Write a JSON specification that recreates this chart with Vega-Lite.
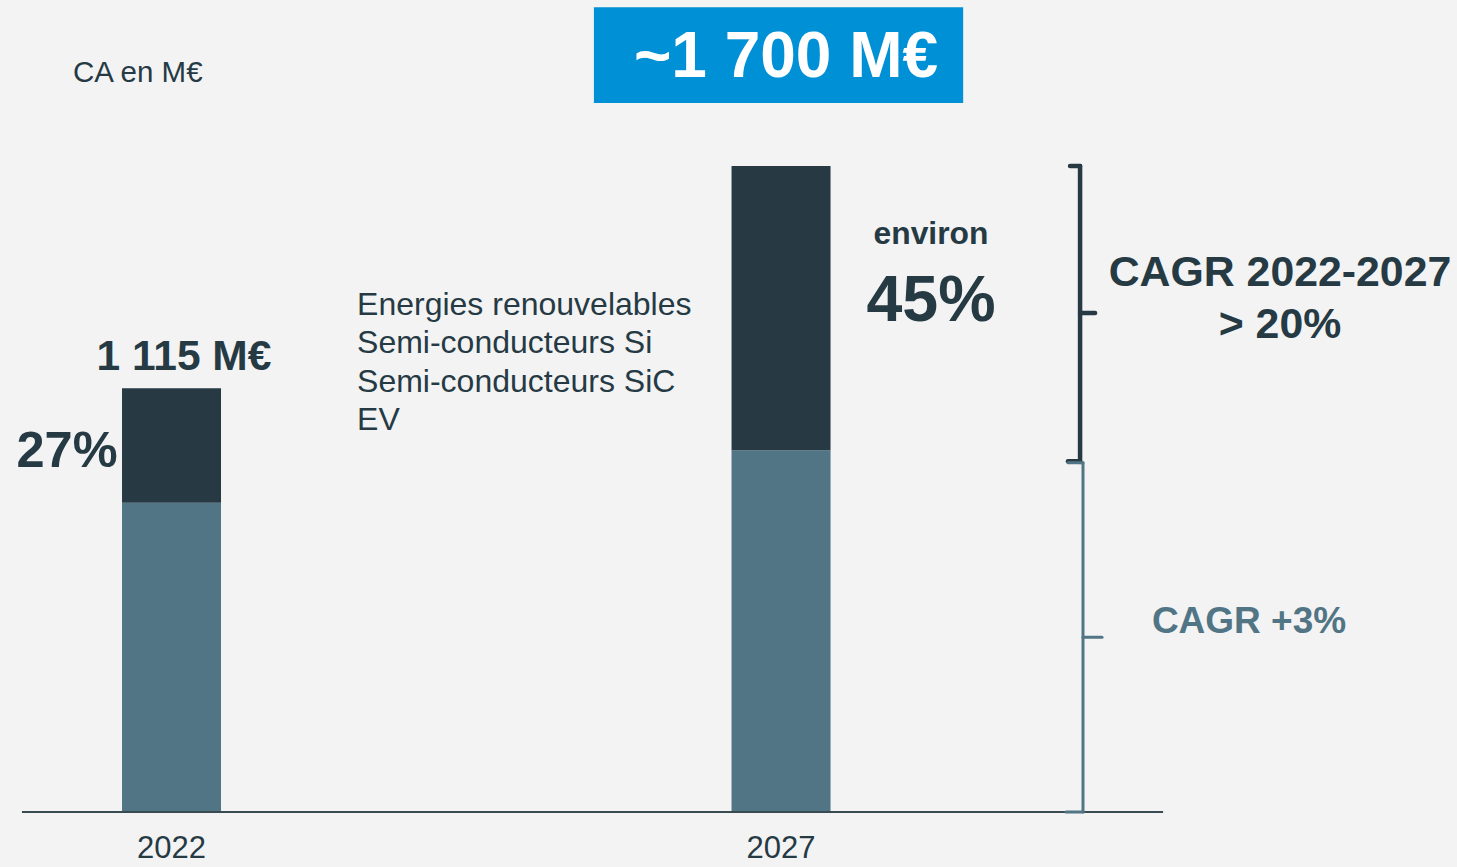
{
"$schema":"https://vega.github.io/schema/vega-lite/v6.json",
"width":1457,"height":867,
"autosize":{"type":"none"},
"padding":0,
"background":"#f3f3f4",
"config":{"view":{"stroke":null},"font":"Liberation Sans","text":{"font":"Liberation Sans"}},
"data":{"values":[{"note":"annotation"}]},
"datasets":{
"ca":[
{"year":2022,"segment":"Activités historiques","value":814},
{"year":2022,"segment":"Nouveaux marchés","value":301},
{"year":2027,"segment":"Activités historiques","value":952},
{"year":2027,"segment":"Nouveaux marchés","value":748}
],
"years":[{"year":2022,"label":"2022"},{"year":2027,"label":"2027"}],
"brackets":[
{"group":"nouveaux","x":2029.453,"x2":2029.453,"y":921,"y2":1700},
{"group":"nouveaux","x":2029.371,"x2":2029.453,"y":1700,"y2":1700},
{"group":"nouveaux","x":2029.354,"x2":2029.453,"y":923,"y2":923},
{"group":"nouveaux","x":2029.453,"x2":2029.576,"y":1313,"y2":1313},
{"group":"historiques","x":2029.477,"x2":2029.477,"y":0,"y2":919},
{"group":"historiques","x":2029.354,"x2":2029.477,"y":919,"y2":919},
{"group":"historiques","x":2029.477,"x2":2029.633,"y":460,"y2":460},
{"group":"historiques","x":2029.338,"x2":2029.477,"y":0,"y2":0}
]
},
"layer":[
{"mark":{"type":"rect","color":"#0090d6"},
 "encoding":{
 "x":{"datum":2025.465,"type":"quantitative","scale":{"domain":[2020.593,2032.545],"nice":false,"zero":false,"padding":0},"axis":null},
 "x2":{"datum":2028.494},
 "y":{"datum":2118,"type":"quantitative","scale":{"domain":[-144.7,2136.8],"nice":false,"zero":false,"padding":0},"axis":null},
 "y2":{"datum":1866}}},
{"data":{"name":"ca"},
 "mark":{"type":"bar","size":99},
 "encoding":{
 "x":{"field":"year","type":"quantitative","scale":{"domain":[2020.593,2032.545],"nice":false,"zero":false,"padding":0},"axis":null},
 "y":{"field":"value","type":"quantitative","stack":"zero","scale":{"domain":[-144.7,2136.8],"nice":false,"zero":false,"padding":0},"axis":null},
 "color":{"field":"segment","type":"nominal","scale":{"domain":["Activités historiques","Nouveaux marchés"],"range":["#517585","#273a43"]},"legend":null},
 "order":{"field":"segment","sort":"ascending"}}},
{"mark":{"type":"rule","color":"#3a4a53","strokeWidth":2},
 "encoding":{
 "x":{"datum":2020.773,"type":"quantitative","scale":{"domain":[2020.593,2032.545],"nice":false,"zero":false,"padding":0},"axis":null},
 "x2":{"datum":2030.134},
 "y":{"datum":0,"type":"quantitative","scale":{"domain":[-144.7,2136.8],"nice":false,"zero":false,"padding":0},"axis":null}}},
{"data":{"name":"brackets"},
 "transform":[{"filter":"datum.group === 'nouveaux'"}],
 "mark":{"type":"rule","color":"#273a43","strokeWidth":4.5,"strokeCap":"round"},
 "encoding":{
 "x":{"field":"x","type":"quantitative","scale":{"domain":[2020.593,2032.545],"nice":false,"zero":false,"padding":0},"axis":null},
 "x2":{"field":"x2"},
 "y":{"field":"y","type":"quantitative","scale":{"domain":[-144.7,2136.8],"nice":false,"zero":false,"padding":0},"axis":null},
 "y2":{"field":"y2"}}},
{"data":{"name":"brackets"},
 "transform":[{"filter":"datum.group === 'historiques'"}],
 "mark":{"type":"rule","color":"#517585","strokeWidth":3,"strokeCap":"round"},
 "encoding":{
 "x":{"field":"x","type":"quantitative","scale":{"domain":[2020.593,2032.545],"nice":false,"zero":false,"padding":0},"axis":null},
 "x2":{"field":"x2"},
 "y":{"field":"y","type":"quantitative","scale":{"domain":[-144.7,2136.8],"nice":false,"zero":false,"padding":0},"axis":null},
 "y2":{"field":"y2"}}},
{"data":{"name":"years"},
 "mark":{"type":"text","fontSize":31,"color":"#263a44","baseline":"middle","align":"center"},
 "encoding":{
 "x":{"field":"year","type":"quantitative","scale":{"domain":[2020.593,2032.545],"nice":false,"zero":false,"padding":0},"axis":null},
 "y":{"datum":-97,"type":"quantitative","scale":{"domain":[-144.7,2136.8],"nice":false,"zero":false,"padding":0},"axis":null},
 "text":{"field":"label"}}},
{"mark":{"type":"text","text":"CA en M€","fontSize":29.5,"color":"#263a44","baseline":"middle","align":"left"},
 "encoding":{
 "x":{"datum":2021.192,"type":"quantitative","scale":{"domain":[2020.593,2032.545],"nice":false,"zero":false,"padding":0},"axis":null},
 "y":{"datum":1944.7,"type":"quantitative","scale":{"domain":[-144.7,2136.8],"nice":false,"zero":false,"padding":0},"axis":null}}},
{"mark":{"type":"text","text":"~1 700 M€","fontSize":64,"fontWeight":"bold","color":"#ffffff","baseline":"middle","align":"center"},
 "encoding":{
 "x":{"datum":2027.041,"type":"quantitative","scale":{"domain":[2020.593,2032.545],"nice":false,"zero":false,"padding":0},"axis":null},
 "y":{"datum":1984,"type":"quantitative","scale":{"domain":[-144.7,2136.8],"nice":false,"zero":false,"padding":0},"axis":null}}},
{"mark":{"type":"text","text":"1 115 M€","fontSize":42.5,"fontWeight":"bold","color":"#263a44","baseline":"middle","align":"center"},
 "encoding":{
 "x":{"datum":2022.102,"type":"quantitative","scale":{"domain":[2020.593,2032.545],"nice":false,"zero":false,"padding":0},"axis":null},
 "y":{"datum":1198,"type":"quantitative","scale":{"domain":[-144.7,2136.8],"nice":false,"zero":false,"padding":0},"axis":null}}},
{"mark":{"type":"text","text":"27%","fontSize":50.5,"fontWeight":"bold","color":"#263a44","baseline":"middle","align":"center"},
 "encoding":{
 "x":{"datum":2021.143,"type":"quantitative","scale":{"domain":[2020.593,2032.545],"nice":false,"zero":false,"padding":0},"axis":null},
 "y":{"datum":947.4,"type":"quantitative","scale":{"domain":[-144.7,2136.8],"nice":false,"zero":false,"padding":0},"axis":null}}},
{"mark":{"type":"text","text":["Energies renouvelables","Semi-conducteurs Si","Semi-conducteurs SiC","EV"],"fontSize":32,"lineHeight":38.5,"color":"#263a44","baseline":"middle","align":"left"},
 "encoding":{
 "x":{"datum":2023.522,"type":"quantitative","scale":{"domain":[2020.593,2032.545],"nice":false,"zero":false,"padding":0},"axis":null},
 "y":{"datum":1334.2,"type":"quantitative","scale":{"domain":[-144.7,2136.8],"nice":false,"zero":false,"padding":0},"axis":null}}},
{"mark":{"type":"text","text":"environ","fontSize":31.8,"fontWeight":"bold","color":"#263a44","baseline":"middle","align":"center"},
 "encoding":{
 "x":{"datum":2028.23,"type":"quantitative","scale":{"domain":[2020.593,2032.545],"nice":false,"zero":false,"padding":0},"axis":null},
 "y":{"datum":1521,"type":"quantitative","scale":{"domain":[-144.7,2136.8],"nice":false,"zero":false,"padding":0},"axis":null}}},
{"mark":{"type":"text","text":"45%","fontSize":64.5,"fontWeight":"bold","color":"#263a44","baseline":"middle","align":"center"},
 "encoding":{
 "x":{"datum":2028.23,"type":"quantitative","scale":{"domain":[2020.593,2032.545],"nice":false,"zero":false,"padding":0},"axis":null},
 "y":{"datum":1342,"type":"quantitative","scale":{"domain":[-144.7,2136.8],"nice":false,"zero":false,"padding":0},"axis":null}}},
{"mark":{"type":"text","text":["CAGR 2022-2027","> 20%"],"fontSize":42.8,"lineHeight":52,"fontWeight":"bold","color":"#263a44","baseline":"middle","align":"center"},
 "encoding":{
 "x":{"datum":2031.093,"type":"quantitative","scale":{"domain":[2020.593,2032.545],"nice":false,"zero":false,"padding":0},"axis":null},
 "y":{"datum":1418.4,"type":"quantitative","scale":{"domain":[-144.7,2136.8],"nice":false,"zero":false,"padding":0},"axis":null}}},
{"mark":{"type":"text","text":"CAGR +3%","fontSize":37,"fontWeight":"bold","color":"#517585","baseline":"middle","align":"center"},
 "encoding":{
 "x":{"datum":2030.839,"type":"quantitative","scale":{"domain":[2020.593,2032.545],"nice":false,"zero":false,"padding":0},"axis":null},
 "y":{"datum":500,"type":"quantitative","scale":{"domain":[-144.7,2136.8],"nice":false,"zero":false,"padding":0},"axis":null}}}
]
}
